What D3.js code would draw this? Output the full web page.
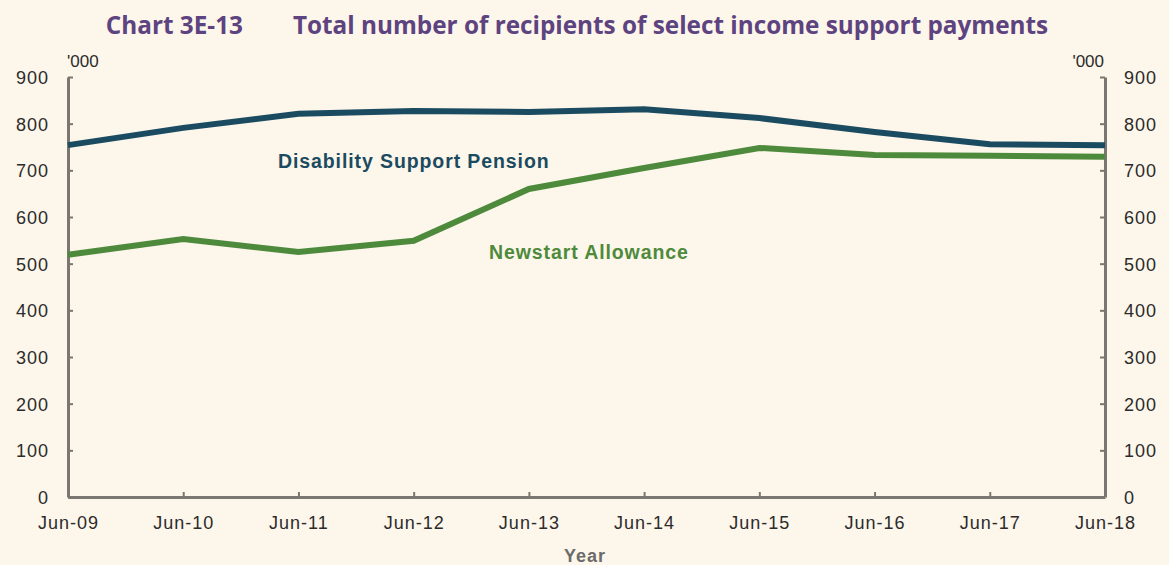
<!DOCTYPE html>
<html>
<head>
<meta charset="utf-8">
<script src="https://cdn.jsdelivr.net/npm/d3@7"></script>
<style>
  body { margin: 0; background: #fdf6ea; }
  svg { display: block; }
</style>
</head>
<body>
<svg id="chart"></svg>
<script>
// Data
var years = ["Jun-09", "Jun-10", "Jun-11", "Jun-12", "Jun-13", "Jun-14", "Jun-15", "Jun-16", "Jun-17", "Jun-18"];
var disability = [754, 791, 821, 827, 825, 831, 812, 782, 756, 754];
var newstart = [519, 553, 525, 549, 660, 705, 748, 733, 731, 729];
var yTicks = [0, 100, 200, 300, 400, 500, 600, 700, 800, 900];

// Colours
var dspColour = "#1b4b60";
var nsColour = "#4e8a3c";
var axisColour = "#7a7672";
var titleColour = "#5d437f";

var width = 1169;
var height = 565;
var margin = { left: 68, right: 64, top: 77, bottom: 68 };

var svg = d3.select("#chart")
    .attr("width", width)
    .attr("height", height);

svg.append("rect")
    .attr("width", width)
    .attr("height", height)
    .attr("fill", "#fdf6ea");

var xScale = d3.scalePoint()
    .domain(years)
    .range([margin.left, width - margin.right]);

var yScale = d3.scaleLinear()
    .domain([0, 900])
    .range([height - margin.bottom, margin.top]);

// Title
var title = svg.append("text")
    .attr("x", 577)
    .attr("y", 34)
    .attr("text-anchor", "middle")
    .style("font-family", "'Open Sans', sans-serif")
    .style("font-weight", "bold")
    .style("font-size", "24.3px")
    .attr("fill", titleColour);
title.append("tspan").text("Chart 3E-13");
title.append("tspan").attr("dx", 50).text("Total number of recipients of select income support payments");

// Axes
var xAxis = d3.axisBottom(xScale).tickSizeInner(-5).tickSizeOuter(0).tickPadding(19);
var yAxisLeft = d3.axisLeft(yScale).tickValues(yTicks).tickSizeInner(-5).tickSizeOuter(0).tickPadding(19);
var yAxisRight = d3.axisRight(yScale).tickValues(yTicks).tickSizeInner(-5).tickSizeOuter(0).tickPadding(19);

function styleAxis(g) {
    g.select(".domain").attr("stroke", axisColour).attr("stroke-width", 3);
    g.selectAll(".tick line").attr("stroke", axisColour).attr("stroke-width", 2);
    g.selectAll(".tick text")
        .attr("fill", "#2b2b2b")
        .style("font-family", "'Liberation Sans', Arial, sans-serif")
        .style("font-size", "18px")
        .style("letter-spacing", "1px");
}

svg.append("g")
    .attr("transform", "translate(0," + (height - margin.bottom) + ")")
    .call(xAxis)
    .call(styleAxis);

svg.append("g")
    .attr("transform", "translate(" + margin.left + ",0)")
    .call(yAxisLeft)
    .call(styleAxis);

svg.append("g")
    .attr("transform", "translate(" + (width - margin.right) + ",0)")
    .call(yAxisRight)
    .call(styleAxis);

svg.selectAll("g .tick text").attr("dy", "0.36em");
svg.selectAll("g .tick text").filter(function () { return years.indexOf(this.textContent) >= 0; }).attr("dy", "0.71em");

// Unit labels
svg.append("text")
    .attr("x", 67)
    .attr("y", 67)
    .style("font-family", "'Liberation Sans', Arial, sans-serif")
    .style("font-size", "17px")
    .attr("fill", "#2b2b2b")
    .text("'000");

svg.append("text")
    .attr("x", width - margin.right - 1)
    .attr("y", 67)
    .attr("text-anchor", "end")
    .style("font-family", "'Liberation Sans', Arial, sans-serif")
    .style("font-size", "17px")
    .attr("fill", "#2b2b2b")
    .text("'000");

// Year label
svg.append("text")
    .attr("x", 585)
    .attr("y", 562)
    .attr("text-anchor", "middle")
    .style("font-family", "'Liberation Sans', Arial, sans-serif")
    .style("font-weight", "bold")
    .style("font-size", "18px")
    .style("letter-spacing", "1px")
    .attr("fill", "#6b6b6b")
    .text("Year");

// Lines
var line = d3.line()
    .x(function (d, i) { return xScale(years[i]); })
    .y(function (d) { return yScale(d); });

svg.append("path")
    .datum(newstart)
    .attr("d", line)
    .attr("fill", "none")
    .attr("stroke", nsColour)
    .attr("stroke-width", 6);

svg.append("path")
    .datum(disability)
    .attr("d", line)
    .attr("fill", "none")
    .attr("stroke", dspColour)
    .attr("stroke-width", 6);

// Series labels
svg.append("text")
    .attr("x", 278)
    .attr("y", 168)
    .style("font-family", "'Liberation Sans', Arial, sans-serif")
    .style("font-weight", "bold")
    .style("font-size", "19.5px")
    .style("letter-spacing", "0.9px")
    .attr("fill", dspColour)
    .text("Disability  Support Pension");

svg.append("text")
    .attr("x", 489)
    .attr("y", 259)
    .style("font-family", "'Liberation Sans', Arial, sans-serif")
    .style("font-weight", "bold")
    .style("font-size", "19.5px")
    .style("letter-spacing", "0.9px")
    .attr("fill", nsColour)
    .text("Newstart Allowance");
</script>
</body>
</html>
